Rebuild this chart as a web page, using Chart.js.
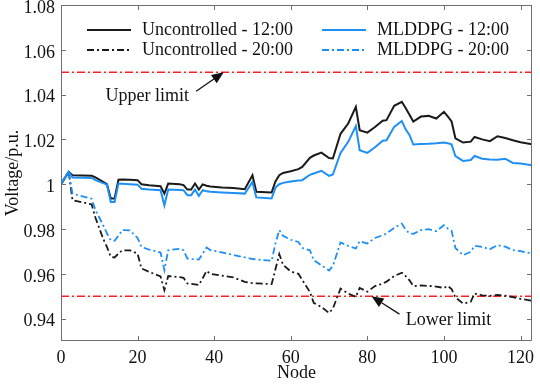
<!DOCTYPE html>
<html lang="en">
  <head>
    <meta charset="UTF-8" />
    <title>Node voltage profile</title>
    <script src="https://cdn.jsdelivr.net/npm/chart.js@4"></script>
    <style>
      body {
        margin: 0;
        background: #fff;
      }
      .wrap {
        width: 540px;
        height: 386px;
      }
    </style>
  </head>
  <body>
    <div class="wrap">
      <canvas id="voltChart" width="540" height="386"></canvas>
    </div>

    <script>
      // nodes where the profiles change slope
      const nodes = [
        0, 2, 3, 8, 9, 11, 12, 13, 14, 15, 16, 18, 20, 21, 23, 26, 27, 28, 31,
        32, 33, 34, 35, 36, 37, 38, 39, 42, 45, 48, 50, 51, 55, 56, 57, 58, 60,
        62, 63, 65, 66, 68, 70, 71, 73, 75, 77, 78, 80, 82, 84, 85, 87, 89, 90,
        91, 92, 94, 96, 98, 100, 101, 102, 103, 105, 107, 108, 110, 112, 114,
        116, 118, 120, 123,
      ];

      const uncontrolled12 = [
        1.0, 1.0055, 1.004, 1.0038, 1.003, 1.001, 1.0, 0.9936, 0.9936, 1.002,
        1.0021, 1.002, 1.0018, 1.0, 0.9995, 0.9991, 0.9958, 1.0003, 1.0, 0.9996,
        0.9976, 0.9976, 1.0003, 0.9976, 0.9999, 0.9993, 0.999, 0.9985, 0.9983,
        0.9978, 1.004, 0.9966, 0.9963, 1.0012, 1.004, 1.005, 1.0058, 1.0067,
        1.0077, 1.0118, 1.0128, 1.0141, 1.0117, 1.0115, 1.0225, 1.0271, 1.0345,
        1.0241, 1.023, 1.0255, 1.0283, 1.0286, 1.035, 1.0368, 1.034, 1.031,
        1.028, 1.0302, 1.0305, 1.0293, 1.0323, 1.0303, 1.028, 1.0205, 1.0186,
        1.019, 1.0211, 1.02, 1.0192, 1.0214, 1.0206, 1.0196, 1.0187, 1.0178,
      ];

      const mlddpg12 = [
        1.0, 1.0055, 1.003, 1.0028, 1.0018, 1.0005, 0.9998, 0.9921, 0.9921,
        1.0003, 1.0002, 1.0, 0.9998, 0.998, 0.9976, 0.9973, 0.9906, 0.9976,
        0.9974, 0.9973, 0.9951, 0.9951, 0.9976, 0.9948, 0.9973, 0.9968, 0.9966,
        0.9963, 0.9961, 0.9958, 1.001, 0.9941, 0.9936, 0.9985, 1.0, 1.0006,
        1.0012, 1.0016, 1.0018, 1.0042, 1.0048, 1.006, 1.0037, 1.0043, 1.014,
        1.0189, 1.026, 1.0152, 1.014, 1.0165, 1.0194, 1.0196, 1.0256, 1.0282,
        1.0245, 1.022, 1.0177, 1.018, 1.0181, 1.0183, 1.0186, 1.0183, 1.0178,
        1.0125, 1.0104, 1.0108, 1.0126, 1.0114, 1.011, 1.0109, 1.0114, 1.0095,
        1.0092, 1.0085,
      ];

      const uncontrolled20 = [
        1.0, 1.0055, 0.9929, 0.991, 0.985, 0.9757, 0.972, 0.9676, 0.9673, 0.969,
        0.9705, 0.9705, 0.969, 0.9624, 0.9609, 0.9588, 0.9527, 0.959, 0.9585,
        0.9582, 0.9557, 0.9555, 0.9553, 0.955, 0.958, 0.9613, 0.96, 0.9592,
        0.9584, 0.9564, 0.9558, 0.9557, 0.9554, 0.962, 0.9688, 0.964, 0.961,
        0.96, 0.9573, 0.9519, 0.947, 0.9452, 0.9425, 0.9445, 0.9534, 0.9512,
        0.9497, 0.9537, 0.952, 0.9545, 0.9556, 0.9565, 0.959, 0.9605, 0.959,
        0.9571, 0.9545, 0.9548, 0.9546, 0.9543, 0.9537, 0.9546, 0.9532, 0.9495,
        0.9467, 0.9475, 0.9512, 0.9504, 0.9501, 0.9506, 0.9502, 0.9496, 0.9488,
        0.948,
      ];

      const mlddpg20 = [
        1.0, 1.0055, 0.9958, 0.9935, 0.9885, 0.9817, 0.978, 0.975, 0.9747, 0.977,
        0.9795, 0.9794, 0.976, 0.972, 0.9708, 0.9695, 0.9616, 0.9705, 0.9712,
        0.9705, 0.9668, 0.9666, 0.9665, 0.9664, 0.969, 0.9717, 0.9706, 0.9696,
        0.9684, 0.9673, 0.9666, 0.9664, 0.9658, 0.9735, 0.9795, 0.977, 0.9752,
        0.9742, 0.9716, 0.9705, 0.9661, 0.9638, 0.9615, 0.9635, 0.974, 0.9725,
        0.9713, 0.9746, 0.9735, 0.976, 0.9772, 0.978, 0.9805, 0.9824, 0.9797,
        0.978, 0.9778, 0.9795, 0.9799, 0.979, 0.9817, 0.9802, 0.9792, 0.9715,
        0.9683, 0.9698, 0.9725, 0.972, 0.971, 0.9728, 0.9721, 0.9706, 0.9701,
        0.969,
      ];

      const upperLimit = 1.05;
      const lowerLimit = 0.95;
      const xTicks = [0, 20, 40, 60, 80, 100, 120];
      const yTicks = [0.94, 0.96, 0.98, 1.0, 1.02, 1.04, 1.06, 1.08];
      const seriesNames = [
        "Uncontrolled - 12:00",
        "Uncontrolled - 20:00",
        "MLDDPG - 12:00",
        "MLDDPG - 20:00",
      ];

      const BLACK = "#1a1a1a";
      const BLUE = "#1e8ff5";
      const RED = "#ff1f1f";
      const DASHDOT = [7, 3, 2, 3];
      const FONT = "18px 'Liberation Serif', 'Times New Roman', serif";

      const toPoints = (vals) => nodes.map((n, i) => ({ x: n, y: vals[i] }));
      const flat = (v) => [
        { x: 0, y: v },
        { x: 123, y: v },
      ];

      // legend drawn in two columns like the original
      const legendItems = [
        { label: seriesNames[0], color: BLACK, dash: [], col: 0, row: 0 },
        { label: seriesNames[1], color: BLACK, dash: DASHDOT, col: 0, row: 1 },
        { label: seriesNames[2], color: BLUE, dash: [], col: 1, row: 0 },
        { label: seriesNames[3], color: BLUE, dash: DASHDOT, col: 1, row: 1 },
      ];

      const notes = [
        { text: "Upper limit", at: [22.5, 1.0393], from: [35.3, 1.0415], to: [42.5, upperLimit] },
        { text: "Lower limit", at: [101.2, 0.9393], from: [88.4, 0.942], to: [81.1, lowerLimit] },
      ];

      const framePlugin = {
        id: "frame",
        afterDatasetsDraw(chart) {
          const { ctx, chartArea: a } = chart;
          const x = chart.scales.x;
          const y = chart.scales.y;
          ctx.save();

          // box + inward ticks
          ctx.strokeStyle = "#6f6f6f";
          ctx.lineWidth = 1;
          ctx.setLineDash([]);
          ctx.beginPath();
          ctx.rect(a.left + 0.5, a.top + 0.5, a.right - a.left - 1, a.bottom - a.top - 1);
          xTicks.forEach((v) => {
            const px = Math.round(x.getPixelForValue(v)) + 0.5;
            ctx.moveTo(px, a.bottom);
            ctx.lineTo(px, a.bottom - 5);
            ctx.moveTo(px, a.top);
            ctx.lineTo(px, a.top + 5);
          });
          yTicks.forEach((v) => {
            const py = Math.round(y.getPixelForValue(v)) + 0.5;
            ctx.moveTo(a.left, py);
            ctx.lineTo(a.left + 5, py);
            ctx.moveTo(a.right, py);
            ctx.lineTo(a.right - 5, py);
          });
          ctx.stroke();

          // legend
          ctx.font = FONT;
          ctx.textBaseline = "middle";
          ctx.textAlign = "left";
          legendItems.forEach((it) => {
            const lx = it.col === 0 ? 87 : 322;
            const ly = 30 + it.row * 20;
            ctx.strokeStyle = it.color;
            ctx.lineWidth = 2;
            ctx.setLineDash(it.dash);
            ctx.beginPath();
            ctx.moveTo(lx, ly);
            ctx.lineTo(lx + 44, ly);
            ctx.stroke();
            ctx.fillStyle = "#111";
            ctx.fillText(it.label, lx + 55, ly);
          });

          // annotations with arrows
          ctx.setLineDash([]);
          notes.forEach((n) => {
            const tx = x.getPixelForValue(n.at[0]);
            const ty = y.getPixelForValue(n.at[1]);
            ctx.textAlign = "center";
            ctx.fillStyle = "#111";
            ctx.fillText(n.text, tx, ty);

            const x0 = x.getPixelForValue(n.from[0]);
            const y0 = y.getPixelForValue(n.from[1]);
            const x1 = x.getPixelForValue(n.to[0]);
            const y1 = y.getPixelForValue(n.to[1]);
            const ang = Math.atan2(y1 - y0, x1 - x0);
            const hl = 12;
            const hw = 5;
            const bx = x1 - hl * Math.cos(ang);
            const by = y1 - hl * Math.sin(ang);
            ctx.strokeStyle = "#111";
            ctx.lineWidth = 1.3;
            ctx.beginPath();
            ctx.moveTo(x0, y0);
            ctx.lineTo(bx, by);
            ctx.stroke();
            ctx.beginPath();
            ctx.moveTo(x1, y1);
            ctx.lineTo(bx + hw * Math.sin(ang), by - hw * Math.cos(ang));
            ctx.lineTo(bx - hw * Math.sin(ang), by + hw * Math.cos(ang));
            ctx.closePath();
            ctx.fill();
          });

          ctx.restore();
        },
      };

      const line = (label, vals, color, dash, width) => ({
        label,
        data: toPoints(vals),
        borderColor: color,
        borderDash: dash,
        borderWidth: width,
        pointRadius: 0,
        tension: 0,
        fill: false,
      });

      new Chart(document.getElementById("voltChart"), {
        type: "line",
        data: {
          datasets: [
            line(seriesNames[3], mlddpg20, BLUE, DASHDOT, 1.8),
            line(seriesNames[2], mlddpg12, BLUE, [], 2),
            line(seriesNames[1], uncontrolled20, BLACK, DASHDOT, 1.8),
            line(seriesNames[0], uncontrolled12, BLACK, [], 2),
            { label: "Upper limit", data: flat(upperLimit), borderColor: RED, borderDash: [8, 3, 2, 3], borderWidth: 1.5, pointRadius: 0 },
            { label: "Lower limit", data: flat(lowerLimit), borderColor: RED, borderDash: [8, 3, 2, 3], borderWidth: 1.5, pointRadius: 0 },
          ],
        },
        options: {
          responsive: false,
          animation: false,
          layout: { autoPadding: false, padding: { top: 5, right: 8, left: 0, bottom: 0 } },
          plugins: {
            legend: { display: false },
            tooltip: { enabled: false },
          },
          scales: {
            x: {
              type: "linear",
              min: 0,
              max: 123,
              afterBuildTicks: (s) => {
                s.ticks = xTicks.map((v) => ({ value: v }));
              },
              afterFit: (s) => {
                s.height = 45;
                s.paddingLeft = 0;
                s.paddingRight = 0;
              },
              grid: { display: false, drawTicks: false },
              border: { display: false },
              ticks: {
                color: "#111",
                padding: 6,
                maxRotation: 0,
                font: { family: "'Liberation Serif'", size: 18 },
              },
              title: {
                display: true,
                text: "Node",
                color: "#111",
                padding: { top: 0, bottom: 2 },
                font: { family: "'Liberation Serif'", size: 18 },
              },
            },
            y: {
              min: 0.93,
              max: 1.08,
              afterBuildTicks: (s) => {
                s.ticks = yTicks.map((v) => ({ value: v }));
              },
              afterFit: (s) => {
                s.width = 61;
                s.paddingTop = 0;
                s.paddingBottom = 0;
              },
              grid: { display: false, drawTicks: false },
              border: { display: false },
              ticks: {
                color: "#111",
                padding: 6,
                labelOffset: 3,
                font: { family: "'Liberation Serif'", size: 18 },
                callback: (v) => String(+v.toFixed(2)),
              },
              title: {
                display: true,
                text: "Voltage/p.u.",
                color: "#111",
                padding: { top: 2, bottom: 0 },
                font: { family: "'Liberation Serif'", size: 18 },
              },
            },
          },
        },
        plugins: [framePlugin],
      });
    </script>
  </body>
</html>
